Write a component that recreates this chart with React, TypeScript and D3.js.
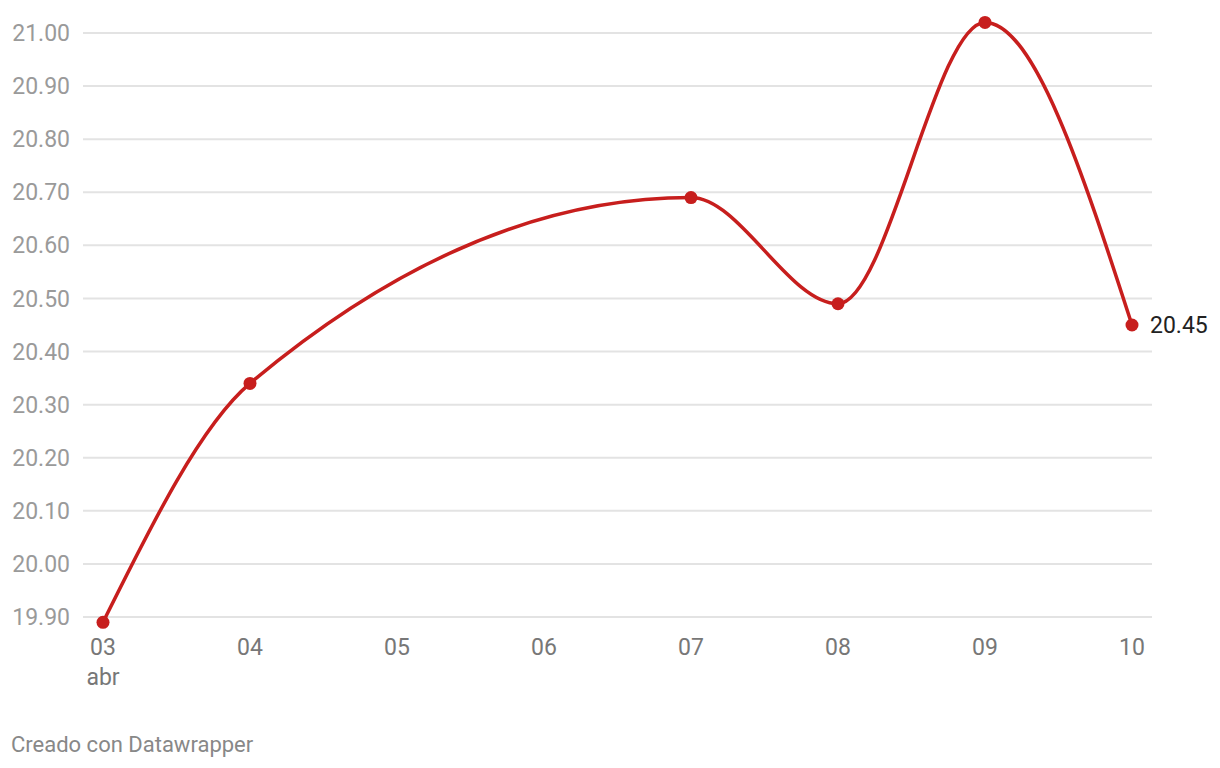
import React from "react";
import * as d3 from "d3";

const days = ["03", "04", "07", "08", "09", "10"];
const dayNums = [3, 4, 7, 8, 9, 10];
const values = [19.89, 20.34, 20.69, 20.49, 21.02, 20.45];
const xTicks = [3, 4, 5, 6, 7, 8, 9, 10];
const yTicks = [19.9, 20.0, 20.1, 20.2, 20.3, 20.4, 20.5, 20.6, 20.7, 20.8, 20.9, 21.0];

const W = 1220;
const H = 768;
const RED = "#c71e1d";

export default function App() {
  const x = d3.scaleLinear().domain([3, 10]).range([103, 1132]);
  const y = d3.scaleLinear().domain([19.9, 21.0]).range([617, 33]);
  const pts = dayNums.map((d, i) => [x(d), y(values[i])] as [number, number]);
  const line = d3.line().curve(d3.curveMonotoneX)(pts) || "";
  const font = "Roboto, sans-serif";
  return (
    <svg width={W} height={H} style={{ position: "absolute", left: 0, top: 0 }}>
      <rect width={W} height={H} fill="#fff" />
      {yTicks.map((t) => (
        <g key={t}>
          <line x1={83} x2={1152} y1={y(t)} y2={y(t)} stroke="#e3e3e3" strokeWidth={2} />
          <text x={70} y={y(t)} dy="0.35em" textAnchor="end" fontFamily={font} fontSize={23} fill="#9a9a9a">
            {t.toFixed(2)}
          </text>
        </g>
      ))}
      {xTicks.map((t) => (
        <text key={t} x={x(t)} y={655} textAnchor="middle" fontFamily={font} fontSize={23} fill="#777">
          {String(t).padStart(2, "0")}
        </text>
      ))}
      <text x={x(3)} y={685} textAnchor="middle" fontFamily={font} fontSize={23} fill="#777">abr</text>
      <path d={line} fill="none" stroke={RED} strokeWidth={3.5} strokeLinejoin="round" />
      {pts.map((p, i) => (
        <circle key={days[i]} cx={p[0]} cy={p[1]} r={6.5} fill={RED} />
      ))}
      <text x={pts[pts.length - 1][0] + 18} y={pts[pts.length - 1][1]} dy="0.35em" fontFamily={font} fontSize={23} fill="#222">
        {values[values.length - 1].toFixed(2)}
      </text>
      <text x={11} y={752} fontFamily={font} fontSize={22} fill="#888">Creado con Datawrapper</text>
    </svg>
  );
}
